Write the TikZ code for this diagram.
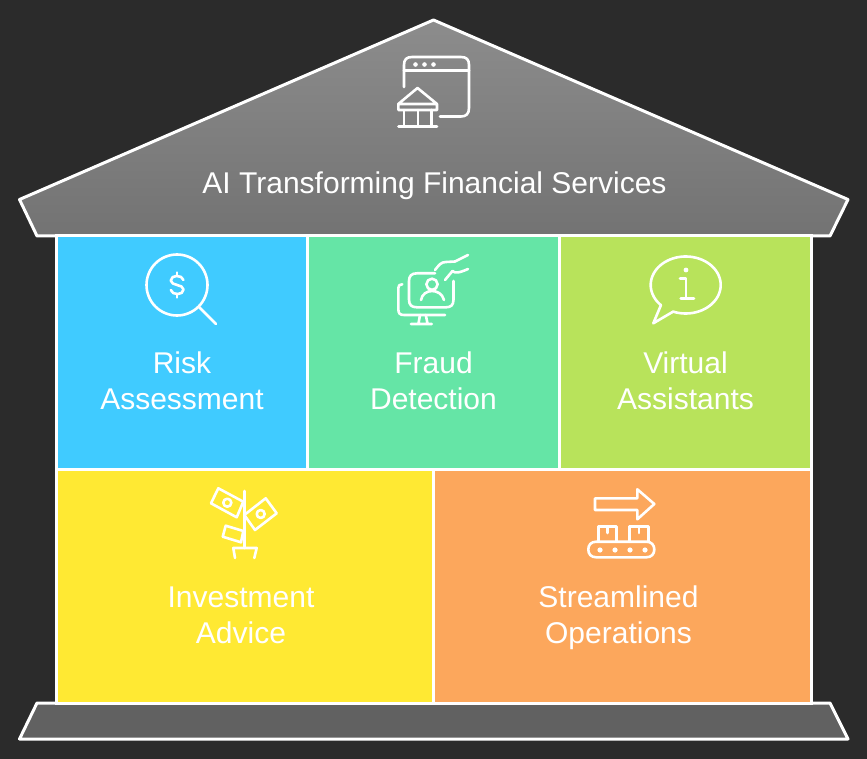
\documentclass[tikz,border=0pt]{standalone}
\usepackage{fontspec}
\setmainfont{Liberation Sans}
\definecolor{bgc}{HTML}{2B2B2B}
\definecolor{cblue}{HTML}{40CBFF}
\definecolor{cgreen}{HTML}{65E5A6}
\definecolor{clime}{HTML}{B8E35B}
\definecolor{cyellow}{HTML}{FFE933}
\definecolor{corange}{HTML}{FCA75C}
\tikzset{
 cell/.style={draw=white,line width=3pt,inner sep=0pt,outer sep=0pt,anchor=north west},
 lbl/.style={text=white,font=\fontsize{30}{36}\selectfont,align=center,inner sep=0pt},
 ico/.style={draw=white,line width=2.6pt,line join=round,line cap=round,fill=none}
}
\begin{document}
\begin{tikzpicture}[x=1pt,y=-1pt]
\useasboundingbox (0,0) rectangle (867,759);
\fill[bgc] (0,0) rectangle (867,759);
% roof and base
\shadedraw[draw=white,line width=3pt,line join=round,top color=black!45!white,bottom color=black!55!white,shading angle=0]
 (433.5,20) -- (848,199.5) -- (830,236) -- (37,236) -- (19.5,199.5) -- cycle;
\draw[white,line width=3pt,line join=round,fill=black!62!white] (37,703) -- (830,703) -- (848,739) -- (19.5,739) -- cycle;
% cells
\node[cell,fill=cblue,minimum width=251.5pt,minimum height=233pt] (c1) at (56,236) {};
\node[cell,fill=cgreen,minimum width=252pt,minimum height=233pt] (c2) at (307.5,236) {};
\node[cell,fill=clime,minimum width=252pt,minimum height=233pt] (c3) at (559.5,236) {};
\node[cell,fill=cyellow,minimum width=377.5pt,minimum height=234pt] (c4) at (56,469) {};
\node[cell,fill=corange,minimum width=378pt,minimum height=234pt] (c5) at (433.5,469) {};
% labels
\node[lbl] (t0) at (434.5,186.5) {\strut AI Transforming Financial Services};
\node[lbl] (t1) at (182,384.5) {\strut Risk\\\strut Assessment};
\node[lbl] (t2) at (433.5,384.5) {\strut Fraud\\\strut Detection};
\node[lbl] (t3) at (685.5,384.5) {\strut Virtual\\\strut Assistants};
\node[lbl] (t4) at (241,618.5) {\strut Investment\\\strut Advice};
\node[lbl] (t5) at (618.5,618.5) {\strut Streamlined\\\strut Operations};
% bank window icon
\draw[ico] (404,87) -- (404,65) .. controls (404,59.5) and (406.5,57) .. (412,57) -- (461,57) .. controls (466.5,57) and (469,59.5) .. (469,65) -- (469,108) .. controls (469,114) and (466,116.5) .. (461,116.5) -- (440,116.5);
\draw[ico] (404,70.7) -- (469,70.7);
\fill[white] (415.5,64.5) circle (2.3pt) (424.5,64.5) circle (2.3pt) (433.5,64.5) circle (2.3pt);
\draw[ico] (417.5,88) -- (437,104) -- (437,110) -- (398.3,110) -- (398.3,104) -- cycle (398.3,104) -- (437,104);
\draw[ico] (404,110) -- (404,126.5) (418,110) -- (418,126.5) (431.7,110) -- (431.7,126.5) (398.5,126.5) -- (437,126.5);
% magnifier icon
\draw[ico] (177,285) circle (30.5pt);
\draw[ico] (199.3,307.3) -- (216,324);
\draw[ico] (183.5,280) .. controls (182,274.5) and (171,274.5) .. (170.8,280.5) .. controls (170.8,286) and (183.5,284) .. (183.5,289.5) .. controls (183.5,295.5) and (172,295.5) .. (170.8,290);
\draw[ico] (177,272.5) -- (177,276) (177,294) -- (177,297.5);
% fraud icon
\draw[ico] (435,273.3) -- (417,273.3) .. controls (411.5,273.3) and (409,276) .. (409,281) -- (409,299.5) .. controls (409,305) and (411.5,307.3) .. (417,307.3) -- (446,307.3) .. controls (451,307.3) and (453.5,305) .. (453.5,299.5) -- (453.5,281);
\draw[ico] (435,270) .. controls (439,265) and (441,262) .. (446,262) -- (455,261.5) -- (468,255);
\draw[ico] (445,280) -- (452.5,271) .. controls (455,273.5) and (459,273) .. (468,269);
\draw[ico] (432,284.3) circle (5.6pt);
\draw[ico] (421,300) .. controls (423,288) and (441,288) .. (444,300);
\draw[ico] (402.3,284.3) .. controls (399.5,284.3) and (398.3,285.5) .. (398.3,288) -- (398.3,309) .. controls (398.3,313.5) and (400,315) .. (404,315) -- (445,315);
\draw[ico] (420,315) -- (418.5,323.5) (425.8,315) -- (427.5,323.5) (411,324) -- (431.7,324);
% info bubble
\draw[ico] (661,305) -- plot[domain=135:471,samples=90,smooth] ({685.7+35*cos(\x)},{285+28.5*sin(\x)}) -- (653.3,323.3) -- cycle;
\fill[white] (686,270) circle (2.4pt);
\draw[ico] (680,278.3) -- (686,278.3) -- (686,298.3) (680.7,298.3) -- (694,298.3);
% plant icon
\draw[ico] (244.3,491) -- (244.3,548);
\draw[ico] (235,558) -- (233.3,548) -- (256.7,548) -- (254.3,558);
\draw[ico] (218.3,488.3) -- (243.3,501.7) -- (236.7,517.3) -- (211,503.3) -- cycle;
\draw[ico] (227.3,502.7) circle (4pt);
\draw[ico] (265.7,498.3) -- (276.7,513.3) -- (255,530) -- (244.3,515) -- cycle;
\draw[ico] (260.7,514) circle (4pt);
\draw[ico] (225.7,525.7) -- (243.3,531) -- (241,542.3) -- (222.7,536.7) -- cycle;
% conveyor icon
\draw[ico] (595,498.3) -- (637.3,498.3) -- (637.3,489.3) -- (654.3,504) -- (637.3,519.3) -- (637.3,510) -- (595,510) -- cycle;
\draw[ico] (596.3,541.7) -- (646.3,541.7) .. controls (651.5,541.7) and (654.3,545) .. (654.3,549.5) .. controls (654.3,554) and (651.5,557.3) .. (646.3,557.3) -- (596.3,557.3) .. controls (591,557.3) and (588.3,554) .. (588.3,549.5) .. controls (588.3,545) and (591,541.7) .. (596.3,541.7) -- cycle;
\fill[white] (600,550) circle (2.6pt) (615,550) circle (2.6pt) (630,550) circle (2.6pt) (645,550) circle (2.6pt);
\draw[ico] (598.3,541.7) -- (598.3,526.7) -- (616.7,526.7) -- (616.7,541.7) (607.5,526.7) -- (607.5,533);
\draw[ico] (629.3,541.7) -- (629.3,526.7) -- (648.3,526.7) -- (648.3,541.7) (639,526.7) -- (639,533);
\end{tikzpicture}
\end{document}
